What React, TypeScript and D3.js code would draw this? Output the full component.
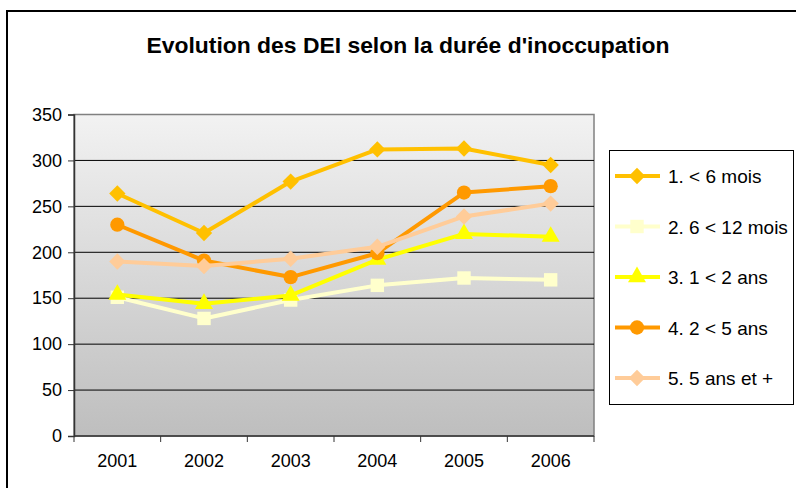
import React, { useEffect, useRef } from "react";
import * as d3 from "d3";

const years = ["2001", "2002", "2003", "2004", "2005", "2006"];
const yTicks = [0, 50, 100, 150, 200, 250, 300, 350];

const lessThan6 = [264, 221, 277, 312, 313, 295];
const from6to12 = [151, 128, 148, 164, 172, 170];
const from1to2 = [154, 144, 153, 192, 220, 217];
const from2to5 = [230, 191, 173, 199, 265, 272];
const over5 = [190, 185, 193, 206, 239, 253];

const seriesNames = ["1. < 6 mois", "2. 6 < 12 mois", "3. 1 < 2 ans", "4. 2 < 5 ans", "5. 5 ans et +"];
const seriesColors = ["#FFC000", "#FFFFCC", "#FFFF00", "#FF9900", "#FFCC99"];
const seriesMarkers = ["diamond", "square", "triangle", "circle", "diamond"];

const App = () => {
  const ref = useRef<SVGSVGElement>(null);

  useEffect(() => {
    const svg = d3.select(ref.current);
    svg.selectAll("*").remove();

    const font = "'Liberation Sans', Arial, sans-serif";
    const left = 74, right = 594, top = 114.5, bottom = 436;

    const x = d3.scaleBand().domain(years).range([left, right]);
    const y = d3.scaleLinear().domain([0, 350]).range([bottom, top]);

    const defs = svg.append("defs");
    const grad = defs.append("linearGradient")
      .attr("id", "bg").attr("x1", 0).attr("y1", 0).attr("x2", 0).attr("y2", 1);
    grad.append("stop").attr("offset", "0%").attr("stop-color", "#f2f2f2");
    grad.append("stop").attr("offset", "100%").attr("stop-color", "#bebebe");

    // outer frame
    svg.append("rect")
      .attr("x", 7).attr("y", 11).attr("width", 800).attr("height", 500)
      .attr("fill", "white").attr("stroke", "black").attr("stroke-width", 2);

    svg.append("text")
      .attr("x", 408).attr("y", 53)
      .attr("text-anchor", "middle")
      .attr("font-family", font).attr("font-weight", "bold").attr("font-size", 22)
      .attr("textLength", 523).attr("lengthAdjust", "spacingAndGlyphs")
      .text("Evolution des DEI selon la durée d'inoccupation");

    // plot area
    svg.append("rect")
      .attr("x", left).attr("y", top)
      .attr("width", right - left).attr("height", bottom - top)
      .attr("fill", "url(#bg)").attr("stroke", "#808080").attr("stroke-width", 1.5);

    // gridlines
    svg.append("g")
      .selectAll("line")
      .data(yTicks.filter(t => t > 0 && t < 350))
      .enter()
      .append("line")
      .attr("x1", left).attr("x2", right)
      .attr("y1", d => y(d)).attr("y2", d => y(d))
      .attr("stroke", "#000").attr("stroke-width", 1);

    // y axis
    const yAxis = svg.append("g")
      .attr("transform", "translate(" + left + ",0)")
      .call(d3.axisLeft(y).tickValues(yTicks).tickSize(6).tickPadding(6));
    yAxis.select(".domain").attr("stroke", "#333").attr("stroke-width", 1.5);
    yAxis.selectAll(".tick line").attr("stroke", "#333");
    yAxis.selectAll("text")
      .attr("font-family", font).attr("font-size", 18).attr("fill", "#000");

    // x axis
    const xAxis = svg.append("g")
      .attr("transform", "translate(0," + bottom + ")");
    xAxis.append("line")
      .attr("x1", left).attr("x2", right).attr("y1", 0).attr("y2", 0)
      .attr("stroke", "#333").attr("stroke-width", 1.5);
    xAxis.selectAll("line.tk")
      .data(years.concat(["end"]))
      .enter()
      .append("line")
      .attr("class", "tk")
      .attr("x1", (d, i) => left + i * x.bandwidth())
      .attr("x2", (d, i) => left + i * x.bandwidth())
      .attr("y1", 0).attr("y2", 6)
      .attr("stroke", "#333");
    xAxis.selectAll("text")
      .data(years)
      .enter()
      .append("text")
      .attr("x", d => (x(d) as number) + x.bandwidth() / 2)
      .attr("y", 31)
      .attr("text-anchor", "middle")
      .attr("font-family", font).attr("font-size", 18)
      .text(d => d);

    const allSeries = [lessThan6, from6to12, from1to2, from2to5, over5];

    const markerPath = (kind: string) => {
      if (kind === "diamond") return d3.symbol(d3.symbolDiamond2, 170)();
      if (kind === "square") return d3.symbol(d3.symbolSquare, 180)();
      if (kind === "triangle") return d3.symbol(d3.symbolTriangle, 140)();
      return d3.symbol(d3.symbolCircle, 160)();
    };

    const line = d3.line<number>()
      .x((d, i) => (x(years[i]) as number) + x.bandwidth() / 2)
      .y(d => y(d));

    allSeries.forEach((vals, si) => {
      const g = svg.append("g");
      g.append("path")
        .attr("d", line(vals))
        .attr("fill", "none")
        .attr("stroke", seriesColors[si])
        .attr("stroke-width", 4)
        .attr("stroke-linejoin", "round");
      g.selectAll("path.m")
        .data(vals)
        .enter()
        .append("path")
        .attr("class", "m")
        .attr("d", markerPath(seriesMarkers[si]))
        .attr("transform", (d, i) => "translate(" + ((x(years[i]) as number) + x.bandwidth() / 2) + "," + y(d) + ")")
        .attr("fill", seriesColors[si]);
    });

    // legend
    const legend = svg.append("g");
    legend.append("rect")
      .attr("x", 609.5).attr("y", 150.5).attr("width", 184).attr("height", 254)
      .attr("fill", "white").attr("stroke", "#000").attr("stroke-width", 1);
    seriesNames.forEach((name, i) => {
      const cy = 176 + i * 50.5;
      legend.append("line")
        .attr("x1", 615).attr("x2", 660).attr("y1", cy).attr("y2", cy)
        .attr("stroke", seriesColors[i]).attr("stroke-width", 4);
      legend.append("path")
        .attr("d", markerPath(seriesMarkers[i]))
        .attr("transform", "translate(637," + cy + ")")
        .attr("fill", seriesColors[i]);
      legend.append("text")
        .attr("x", 668).attr("y", cy + 7)
        .attr("font-family", font).attr("font-size", 19)
        .text(name);
    });
  }, []);

  return (
    <svg ref={ref} width={796} height={488}
      style={{ position: "absolute", left: 0, top: 0, display: "block" }} />
  );
};

export default App;
